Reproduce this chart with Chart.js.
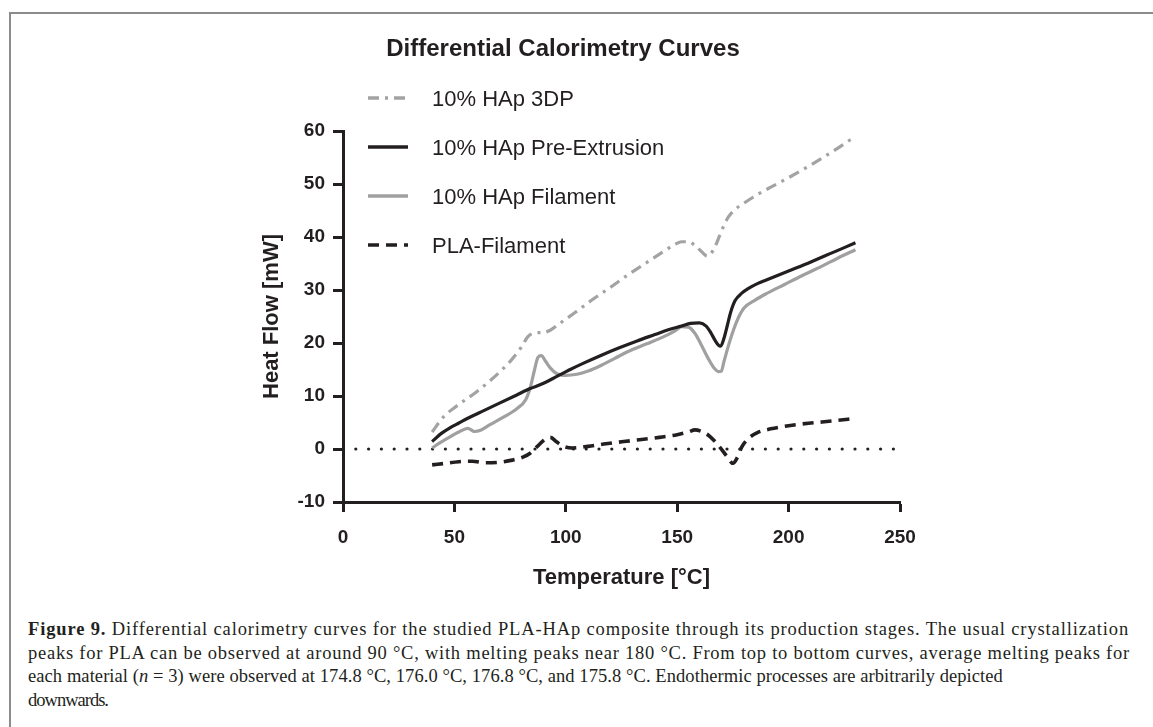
<!DOCTYPE html>
<html><head><meta charset="utf-8">
<script src="https://cdn.jsdelivr.net/npm/chart.js@4"></script>
<style>
html,body{margin:0;padding:0;background:#fff;width:1153px;height:727px;overflow:hidden;}
#frame{position:absolute;left:9px;top:12px;width:1300px;height:900px;border-left:2px solid #8c8c8c;border-top:2px solid #8c8c8c;}
#wrap{position:absolute;left:0;top:0;width:1153px;height:600px;}
.cap{position:absolute;left:28px;font-family:"Liberation Serif","Times New Roman",serif;font-size:18.5px;line-height:23px;color:#231f20;white-space:nowrap;}
.cap b{font-weight:bold;}
</style></head>
<body>
<div id="frame"></div>
<div id="wrap"><canvas id="c" width="1153" height="600"></canvas></div>
<div class="cap" id="l1" style="top:618px"><b>Figure 9.</b> Differential calorimetry curves for the studied PLA-HAp composite through its production stages. The usual crystallization</div>
<div class="cap" id="l2" style="top:641.5px">peaks for PLA can be observed at around 90 °C, with melting peaks near 180 °C. From top to bottom curves, average melting peaks for</div>
<div class="cap" id="l3" style="top:665px">each material (<i>n</i> = 3) were observed at 174.8 °C, 176.0 °C, 176.8 °C, and 175.8 °C. Endothermic processes are arbitrarily depicted</div>
<div class="cap" id="l4" style="top:688.5px">downwards.</div>
<script>
const titleText = 'Differential Calorimetry Curves';
const xTitle = 'Temperature [°C]';
const yTitle = 'Heat Flow [mW]';
const seriesLabels = ['10% HAp 3DP', '10% HAp Pre-Extrusion', '10% HAp Filament', 'PLA-Filament'];
const xTicks = [0, 50, 100, 150, 200, 250];
const yTicks = [-10, 0, 10, 20, 30, 40, 50, 60];

const t3dp = [40, 45, 50, 60, 70, 76, 80, 83, 86, 90, 93, 97, 104, 112, 120, 128, 136, 144, 149, 152, 155, 158, 161, 163.5, 165, 167, 169, 171, 173, 176, 180, 186, 192, 200, 210, 220, 230];
const v3dp = [3.2, 6.0, 7.8, 10.8, 14.4, 17.0, 19.2, 21.2, 21.9, 22.0, 22.4, 23.6, 25.7, 28.2, 30.5, 32.9, 35.1, 37.3, 38.6, 39.1, 39.1, 38.4, 37.2, 36.4, 36.8, 38.2, 40.2, 42.2, 43.8, 45.2, 46.4, 48.0, 49.4, 51.2, 53.6, 56.2, 59.0];

const tPre = [40, 44, 48, 52, 56, 62, 70, 78, 84, 90, 96, 102, 108, 116, 124, 132, 140, 146, 152, 156, 160, 163, 165, 167, 168.5, 169.5, 171, 172.5, 174, 176, 179, 182, 186, 190, 200, 210, 220, 230];
const vPre = [1.4, 2.9, 4.0, 4.9, 5.8, 7.0, 8.6, 10.2, 11.4, 12.4, 13.7, 15.0, 16.2, 17.7, 19.1, 20.4, 21.6, 22.5, 23.2, 23.7, 23.8, 23.2, 22.0, 20.5, 19.6, 19.4, 20.9, 23.3, 25.8, 28.0, 29.4, 30.3, 31.2, 31.9, 33.6, 35.3, 37.1, 38.9];

const tFil = [40, 44, 48, 52, 56, 59, 62, 66, 72, 78, 82, 84, 86, 87.5, 89, 91, 93, 96, 100, 105, 110, 116, 122, 128, 136, 144, 149, 152, 155, 158, 161, 164, 166.5, 168.5, 169.8, 171, 173, 175.3, 177.5, 180, 185, 190, 198, 206, 215, 222, 230];
const vFil = [0.2, 1.3, 2.3, 3.2, 3.9, 3.3, 3.6, 4.6, 6.0, 7.6, 9.3, 11.5, 15.0, 17.3, 17.6, 16.5, 15.3, 14.2, 13.9, 14.1, 14.7, 15.8, 17.1, 18.4, 19.8, 21.2, 22.3, 23.1, 23.0, 21.8, 19.5, 17.0, 15.3, 14.6, 14.7, 16.5, 19.5, 22.5, 24.8, 26.6, 28.1, 29.3, 31.0, 32.7, 34.5, 36.0, 37.6];

const tPla = [40, 46, 52, 58, 64, 70, 76, 81, 84, 87, 90, 93, 96, 99, 103, 110, 118, 126, 134, 142, 150, 155, 158, 161, 164, 167, 170, 172.5, 175, 177, 179, 182, 186, 192, 200, 210, 220, 230];
const vPla = [-3.0, -2.7, -2.4, -2.3, -2.6, -2.5, -2.1, -1.5, -0.8, 0.4, 1.6, 2.2, 1.3, 0.5, 0.2, 0.5, 1.0, 1.4, 1.8, 2.2, 2.7, 3.2, 3.6, 3.3, 2.6, 1.4, -0.1, -1.5, -2.7, -1.6, 0.4, 2.0, 3.1, 3.8, 4.4, 4.9, 5.3, 5.8];

const tZero = [0, 250];
const vZero = [0, 0];

const captionRightEdges = [1129, 1130, 1003, 108];

function pts(t, v) { return t.map((x, i) => ({x: x, y: v[i]})); }

const INK = '#231f20';
const GREY = '#a0a0a0';
const FONT = '"Liberation Sans", Arial, sans-serif';

const datasets = [
  {label: seriesLabels[1], data: pts(tPre, vPre), borderColor: INK, borderWidth: 3.2, borderDash: [], key: 1},
  {label: seriesLabels[2], data: pts(tFil, vFil), borderColor: GREY, borderWidth: 3.2, borderDash: [], key: 2},
  {label: seriesLabels[0], data: pts(t3dp, v3dp), borderColor: '#a3a3a3', borderWidth: 3.2, borderDash: [11, 6, 3, 6], key: 0},
  {label: seriesLabels[3], data: pts(tPla, vPla), borderColor: INK, borderWidth: 3.6, borderDash: [11, 7], key: 3},
  {label: '', data: pts(tZero, vZero), borderColor: INK, borderWidth: 3.2, borderDash: [0, 12.8], borderCapStyle: 'round', key: -1, cubicInterpolationMode: 'default', tension: 0}
];

const overlay = {
  id: 'overlay',
  afterDraw(chart) {
    const ctx = chart.ctx;
    ctx.save();
    ctx.fillStyle = INK;
    ctx.font = 'bold 24px ' + FONT;
    ctx.textAlign = 'center';
    ctx.textBaseline = 'middle';
    ctx.fillText(titleText, 563, 49);
    for (let i = 0; i < seriesLabels.length; i++) {
      const ds = chart.data.datasets.find(d => d.key === i);
      const y = 98 + i * 49;
      ctx.strokeStyle = ds.borderColor;
      ctx.lineWidth = 3.6;
      ctx.setLineDash(ds.borderDash || []);
      ctx.lineCap = 'butt';
      ctx.beginPath();
      ctx.moveTo(368, y);
      ctx.lineTo(408, y);
      ctx.stroke();
      ctx.setLineDash([]);
      ctx.fillStyle = INK;
      ctx.font = '22px ' + FONT;
      ctx.textAlign = 'left';
      ctx.fillText(ds.label, 432, y + 1.5);
    }
    ctx.restore();
  }
};

new Chart(document.getElementById('c'), {
  type: 'line',
  data: {datasets: datasets},
  plugins: [overlay],
  options: {
    responsive: false,
    animation: false,
    devicePixelRatio: 1,
    layout: {padding: {left: 250, right: 253, top: 131, bottom: 0}},
    plugins: {legend: {display: false}, title: {display: false}, tooltip: {enabled: false}},
    elements: {point: {radius: 0}, line: {cubicInterpolationMode: 'monotone', fill: false}},
    scales: {
      x: {
        type: 'linear', min: 0, max: 250,
        afterBuildTicks(s) { s.ticks = xTicks.map(v => ({value: v})); },
        ticks: {color: INK, font: {family: FONT, size: 19, weight: 'bold'}, padding: 14, maxRotation: 0, autoSkip: false},
        grid: {display: true, drawOnChartArea: false, tickLength: 10, tickWidth: 3, color: INK, tickColor: INK},
        border: {display: true, color: INK, width: 3},
        title: {display: true, text: xTitle, color: INK, font: {family: FONT, size: 22, weight: 'bold'}, padding: {top: 0, bottom: 9}},
        afterFit(s) { s.height = 98; }
      },
      y: {
        type: 'linear', min: -10, max: 60,
        afterBuildTicks(s) { s.ticks = yTicks.map(v => ({value: v})); },
        ticks: {color: INK, font: {family: FONT, size: 19, weight: 'bold'}, padding: 8, autoSkip: false},
        grid: {display: true, drawOnChartArea: false, tickLength: 10, tickWidth: 3, color: INK, tickColor: INK},
        border: {display: true, color: INK, width: 3},
        title: {display: true, text: yTitle, color: INK, font: {family: FONT, size: 22, weight: 'bold'}, padding: {top: 9, bottom: 0}},
        afterFit(s) { s.width = 93; }
      }
    }
  }
});

// fit caption lines to the reference line lengths
['l1', 'l2', 'l3', 'l4'].forEach((id, i) => {
  const el = document.getElementById(id);
  const natural = el.getBoundingClientRect().width;
  const n = el.textContent.length;
  const target = captionRightEdges[i] - 28;
  el.style.letterSpacing = ((target - natural) / n).toFixed(3) + 'px';
});
</script>
</body></html>
